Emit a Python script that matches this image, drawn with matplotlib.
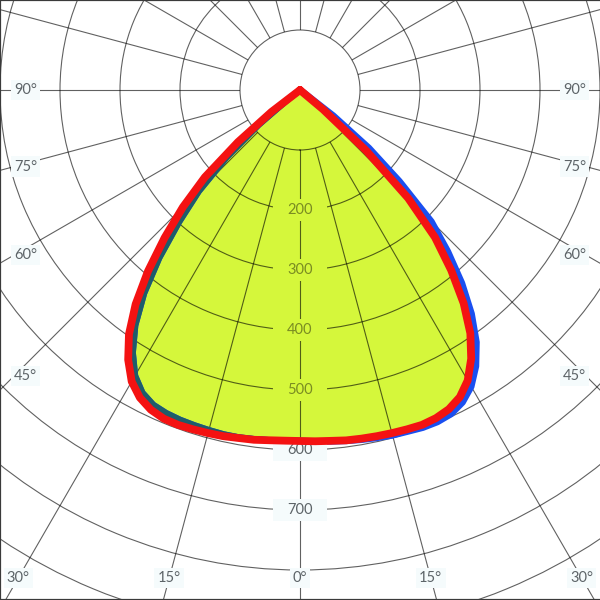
#!/usr/bin/python3
#
# Polar light distribution curve (two C-planes) of a downlight.

import matplotlib
matplotlib.use("Agg")
import matplotlib.pyplot as plt
import numpy as np

from matplotlib.lines import Line2D
from matplotlib.path import Path

# gamma angle in degrees from the downward axis, read for each half
gamma = [0, 2.5, 5, 7.5, 10, 12.5, 15, 17.5, 20, 22.5, 25, 27.5, 30, 32.5, 35,
         37.5, 40, 42.5, 45, 47.5, 50, 52.5, 55, 60, 65, 70, 75, 80, 85, 90]
# C0-C180 plane (red), left and right half
red_left = [585, 585, 586, 588, 589, 591, 592, 593, 594, 593, 588, 578, 561, 533,
            497, 450, 394, 334, 276, 215, 135, 60, 0, 0, 0, 0, 0, 0, 0, 0]
red_right = [585, 586, 587, 589, 590, 591, 592, 593, 594, 592, 587, 577, 559, 531,
             495, 448, 392, 333, 255, 150, 50, 0, 0, 0, 0, 0, 0, 0, 0, 0]
# C90-C270 plane (blue), left and right half
blue_left = [585, 585, 586, 587, 588, 588, 587, 586, 585, 583, 579, 569, 550, 519,
             479, 427, 365, 299, 239, 167, 90, 24, 0, 0, 0, 0, 0, 0, 0, 0]
blue_right = [585, 586, 588, 590, 592, 594, 596, 597, 599, 599, 596, 587, 571, 546,
              513, 470, 420, 365, 310, 225, 150, 70, 10, 0, 0, 0, 0, 0, 0, 0]

rings = [200, 300, 400, 500, 600, 700, 800, 900, 1000]
ring_labels = [200, 300, 400, 500, 600, 700]
side_labels = [90, 75, 60, 45]
bottom_labels = [-30, -15, 0, 15, 30]

px_per_cd = 0.6  # 100 cd = 60 px on the 600 px canvas

yellow = "#d5f73b"
teal = "#1e5d6a"
red = "#f41212"
blue = "#1a4ff0"
grey_txt = "#5d6468"
olive_txt = "#7a8c22"
label_bg = "#f5fbfc"
font = ["Lato", "DejaVu Sans"]


def wide_box(x0, y0, width, height, mutation_size):
    # label box wider than tall, like the original diagram
    padx = 0.95 * mutation_size
    pady = 0.3 * mutation_size
    return Path(
        [
            (x0 - padx, y0 - pady),
            (x0 + width + padx, y0 - pady),
            (x0 + width + padx, y0 + height + pady),
            (x0 - padx, y0 + height + pady),
            (x0 - padx, y0 - pady),
        ],
        closed=True,
    )


def whole_curve(left, right):
    # join both halves into one sweep from -90 to +90 degrees
    theta = [-g for g in gamma[::-1]] + gamma[1:]
    values = left[::-1] + right[1:]
    return np.deg2rad(theta), values


def main():
    fig = plt.figure(figsize=(6, 6), dpi=100, facecolor="white")
    # centre of the diagram sits at (300, 90) px, r=1000 reaches 600 px
    ax = fig.add_axes([-0.5, -0.15, 2.0, 2.0], projection="polar")
    ax.set_theta_zero_location("S")
    ax.set_theta_direction(1)
    ax.set_rorigin(0)
    ax.set_ylim(100, 1000)
    ax.set_facecolor("white")
    ax.set_axisbelow(False)

    ax.set_xticks(np.deg2rad(np.arange(0, 360, 15)))
    ax.set_xticklabels([])
    ax.set_yticks(rings)
    ax.set_yticklabels([])
    ax.grid(True, color="black", alpha=0.62, linewidth=0.8)
    ax.tick_params(length=0)
    ax.spines["polar"].set_visible(False)
    ax.spines["inner"].set_color((0, 0, 0, 0.62))
    ax.spines["inner"].set_linewidth(0.8)

    th_red, r_red = whole_curve(red_left, red_right)
    th_blue, r_blue = whole_curve(blue_left, blue_right)

    (poly,) = ax.fill(th_red, r_red, color=yellow, lw=0, zorder=1, clip_on=False)

    style = dict(solid_joinstyle="round", solid_capstyle="round")
    ax.plot(th_blue, r_blue, color=blue, lw=4.6, zorder=3, clip_on=False, **style)
    # blue plane seen through the yellow fill turns dark teal
    (teal_line,) = ax.plot(th_blue, r_blue, color=teal, lw=4.6, zorder=3.5, **style)
    teal_line.set_clip_path(poly)
    ax.plot(th_red, r_red, color=red, lw=5.6, zorder=4, clip_on=False, **style)

    # radial value labels down the 0 degree line
    centre_cd = red_left[0]
    for v in ring_labels:
        inside = v < centre_cd
        ax.text(0, v, str(v), ha="center", va="center", fontsize=10.5,
                family=font, color=olive_txt if inside else grey_txt, zorder=3,
                bbox=dict(boxstyle=wide_box,
                          facecolor=yellow if inside else label_bg,
                          edgecolor="none"))

    # angle labels where the radial lines leave the picture
    box = dict(boxstyle="square,pad=0.22", facecolor=label_bg, edgecolor="none")
    for g in side_labels:
        r = 286 / np.sin(np.deg2rad(g)) / px_per_cd
        for sign, ha in ((-1, "left"), (1, "right")):
            ax.text(np.deg2rad(sign * g), r, f"{g}°", ha=ha, va="center",
                    fontsize=10.5, family=font, color=grey_txt,
                    zorder=3, clip_on=False, bbox=box)
    for g in bottom_labels:
        r = 488 / np.cos(np.deg2rad(g)) / px_per_cd
        ax.text(np.deg2rad(g), r, f"{abs(g)}°", ha="center", va="center",
                fontsize=10.5, family=font, color=grey_txt,
                zorder=3, clip_on=False, bbox=box)

    # thin frame on three sides
    for xs, ys in (([0, 0], [0, 1]), ([0, 1], [0, 0]), ([0, 1], [1, 1])):
        fig.add_artist(Line2D(xs, ys, transform=fig.transFigure,
                              color="#3a3a3a", lw=1.6))

    fig.savefig("out.png", dpi=100, facecolor="white")


if __name__ == "__main__":
    main()
